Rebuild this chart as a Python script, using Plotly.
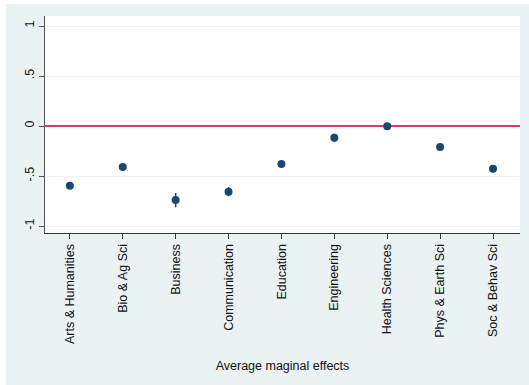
import plotly.graph_objects as go

categories = ["Arts & Humanities", "Bio & Ag Sci", "Business", "Communication",
              "Education", "Engineering", "Health Sciences", "Phys & Earth Sci",
              "Soc & Behav Sci"]
margins = [-0.597, -0.410, -0.740, -0.657, -0.380, -0.118, -0.002, -0.210, -0.427]
ci_low = [-0.617, -0.428, -0.813, -0.702, -0.398, -0.160, -0.020, -0.232, -0.447]
ci_high = [-0.577, -0.392, -0.670, -0.612, -0.362, -0.076, 0.016, -0.188, -0.407]
ytick_vals = [-1, -0.5, 0, 0.5, 1]
ytick_text = ["-1", "-.5", "0", ".5", "1"]
ref_value = 0

x_pos = list(range(1, len(categories) + 1))
x_range = [0.53, 9.51]
y_range = [-1.07, 1.10]

err_plus = [h - m for h, m in zip(ci_high, margins)]
err_minus = [m - l for m, l in zip(margins, ci_low)]

BG = "#eaf2f3"
NAVY = "#1a476f"
RED = "#dc3a64"
FONT = "Liberation Sans, Arial, Helvetica, sans-serif"

fig = go.Figure()
# reference line at zero (drawn first so the markers sit on top)
fig.add_trace(go.Scatter(
    x=x_range, y=[ref_value, ref_value], mode="lines",
    line=dict(color=RED, width=1.8), showlegend=False, hoverinfo="skip",
    cliponaxis=False,
))
fig.add_trace(go.Scatter(
    x=x_pos, y=margins, mode="markers",
    marker=dict(color=NAVY, size=8),
    error_y=dict(type="data", array=err_plus, arrayminus=err_minus,
                 color=NAVY, thickness=1.5, width=0),
    showlegend=False, hoverinfo="skip",
))

# white strips at left and top of the canvas (outside the graph region)
fig.add_shape(type="rect", xref="paper", yref="paper",
              x0=-45/475, x1=-39/475, y0=-0.8, y1=1.2,
              fillcolor="white", line=dict(width=0), layer="above")
fig.add_shape(type="rect", xref="paper", yref="paper",
              x0=-0.2, x1=1.1, y0=1 + 12/217, y1=1 + 16/217 + 0.01,
              fillcolor="white", line=dict(width=0), layer="above")

fig.update_layout(
    width=529, height=385,
    margin=dict(l=45, r=9, t=16, b=152),
    paper_bgcolor=BG, plot_bgcolor="white",
    font=dict(family=FONT, size=12, color="#111111"),
    xaxis=dict(
        range=x_range, tickvals=x_pos, ticktext=categories,
        showgrid=False, zeroline=False,
        showline=True, linecolor="#333333", linewidth=1,
        ticks="outside", ticklen=5, tickcolor="#333333", tickwidth=1,
        tickangle=-90, tickfont=dict(size=12.5, color="#111111"),
        title=dict(text="Average maginal effects", font=dict(size=12.5, color="#111111"),
                   standoff=18),
    ),
    yaxis=dict(
        range=y_range, tickvals=ytick_vals, ticktext=ytick_text,
        showgrid=True, gridcolor=BG, gridwidth=1.2, zeroline=False,
        showline=True, linecolor="#555555", linewidth=1,
        ticks="outside", ticklen=5, tickcolor="#555555", tickwidth=1,
        tickangle=-90, tickfont=dict(size=12.5, color="#111111"),
    ),
)

fig.write_html("out.html")
